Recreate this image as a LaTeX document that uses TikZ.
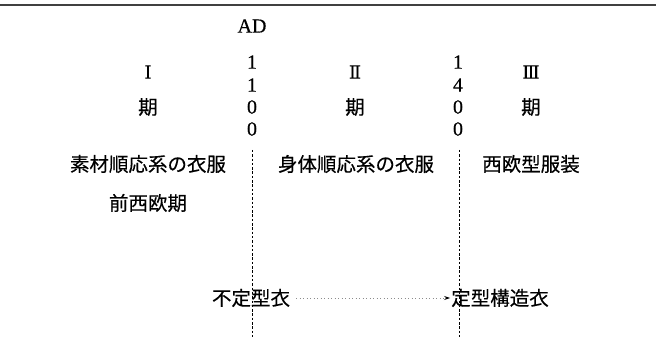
\documentclass[tikz,border=0pt]{standalone}
\usepackage{fontspec}
\setmainfont{Liberation Serif}
\newfontfamily\cjk[FakeBold=0.35]{Noto Sans CJK JP}
\newfontfamily\numf[FakeBold=0.4]{Liberation Serif}
\newfontfamily\romanf[FakeBold=0.3]{DejaVu Serif}
\usetikzlibrary{arrows.meta}
\begin{document}
\begin{tikzpicture}[x=1pt,y=-1pt,
  jp/.style={inner sep=0pt,font=\cjk\fontsize{19.5pt}{22pt}\selectfont},
  num/.style={inner sep=0pt,font=\numf\fontsize{20pt}{22pt}\selectfont},
  roman/.style={inner sep=0pt,font=\romanf\fontsize{18pt}{22pt}\selectfont},
  divider/.style={line width=0.8pt,dash pattern=on 2.5pt off 1.8pt},
  flow/.style={line width=0.8pt,dash pattern=on 1pt off 2.5pt,-{Stealth[length=6pt,width=4pt,black]}}]
\useasboundingbox (0,0) rectangle (656,339);
\fill[white] (0,0) rectangle (656,339);
\coordinate (ruleL) at (0,5);
\coordinate (ruleR) at (656,5);
\draw[line width=1.3pt,black!75] (ruleL) -- (ruleR);
% AD and year columns
\node[num] (ad) at (252,26) {AD};
\node[num] (a1) at (252,62) {1};
\node[num] (a2) at (252,85) {1};
\node[num] (a3) at (252,107) {0};
\node[num] (a4) at (252,129) {0};
\node[num] (b1) at (458,62) {1};
\node[num] (b2) at (458,85) {4};
\node[num] (b3) at (458,107) {0};
\node[num] (b4) at (458,129) {0};
% periods
\node[roman] (p1) at (148,72) {Ⅰ};
\node[roman] (p2) at (355,72) {Ⅱ};
\node[roman] (p3) at (531,72) {Ⅲ};
\node[jp] (k1) at (148,107) {期};
\node[jp] (k2) at (355,107) {期};
\node[jp] (k3) at (531,107) {期};
% categories
\node[jp] (c1) at (148,164) {素材順応系の衣服};
\node[jp] (c2) at (356,164) {身体順応系の衣服};
\node[jp] (c3) at (531,164) {西欧型服装};
\node[jp] (pre) at (148,203) {前西欧期};
\node[jp] (t1) at (251,298) {不定型衣};
\node[jp] (t2) at (500,298) {定型構造衣};
% dividers
\coordinate (d1t) at (252,150);
\coordinate (d1b) at (252,337);
\coordinate (d2t) at (459,150);
\coordinate (d2b) at (459,337);
\draw[divider] (d1t) -- (d1b);
\draw[divider] (d2t) -- (d2b);
% arrow
\draw[flow,black!45] ([xshift=6pt]t1.east) -- ([xshift=-1pt]t2.west);
\end{tikzpicture}
\end{document}
